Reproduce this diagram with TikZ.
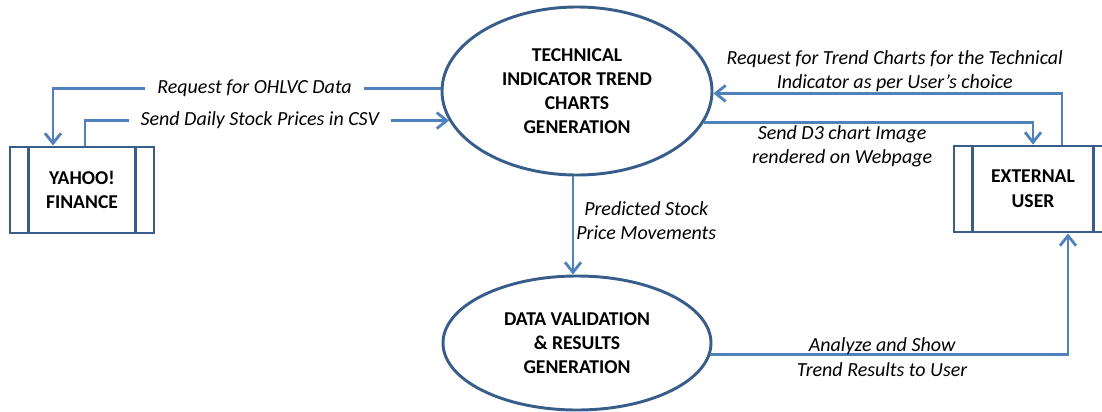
\documentclass[tikz,border=0pt]{standalone}
\usepackage{fontspec}
\setmainfont{Carlito}
\usetikzlibrary{arrows.meta,shapes.geometric}
\definecolor{flowblue}{RGB}{79,129,189}
\definecolor{edgeblue}{RGB}{56,93,138}

\begin{document}
\begin{tikzpicture}[x=0.75pt,y=-0.75pt,
        process/.style={ellipse,draw=edgeblue,line width=2.2pt,inner sep=0pt,align=center,
            font=\fontsize{14.7}{18}\selectfont\bfseries},
        entity/.style={draw=edgeblue,line width=2.2pt,minimum height=64.5pt,align=center,
            font=\fontsize{14.7}{18.5}\selectfont\bfseries,
            path picture={
                \draw[edgeblue,line width=2.2pt]
                    ([xshift=14pt]path picture bounding box.north west) -- ([xshift=14pt]path picture bounding box.south west)
                    ([xshift=-14pt]path picture bounding box.north east) -- ([xshift=-14pt]path picture bounding box.south east);}},
        flow/.style={draw=flowblue,line width=2.1pt,-{Straight Barb[length=7.5pt,width=12pt]}},
        flowtext/.style={align=center,font=\fontsize{15}{18.5}\selectfont\itshape,text=black}]
    \useasboundingbox (0,0) rectangle (1102,411);
    % processes
    \node[process,minimum width=202.5pt,minimum height=126pt] (trend) at (577,91)
        {TECHNICAL\\INDICATOR TREND\\CHARTS\\GENERATION};
    \node[process,minimum width=201pt,minimum height=100.5pt] (valid) at (577,343)
        {DATA VALIDATION\\\& RESULTS\\GENERATION};
    % external entities
    \node[entity,minimum width=108pt] (yahoo) at (82,190) {YAHOO!\\FINANCE};
    \node[entity,minimum width=118.5pt] (user) at (1033,189) {EXTERNAL\\USER};
    % data flows
    \draw[flow] (trend.179) -| node[flowtext,fill=white,inner xsep=9pt,pos=0.24]{Request for OHLVC Data}
        ([xshift=-21.75pt]yahoo.north);
    \draw[flow] ([xshift=2.25pt]yahoo.north) |- node[flowtext,fill=white,inner xsep=9pt,pos=0.74]{Send Daily Stock Prices in CSV}
        (trend.193);
    \draw[flow] ([xshift=21.75pt]user.north) |- node[flowtext,above,pos=0.74,inner sep=0pt]
        {Request for Trend Charts for the Technical\\Indicator as per User's choice} (trend.-1);
    \draw[flow] (trend.-14) -| node[flowtext,below,pos=0.21,inner sep=1pt]
        {Send D3 chart Image\\rendered on Webpage} (user.north);
    \draw[flow] ([xshift=-3pt]trend.south) -- node[flowtext,right,pos=0.45,inner sep=1.5pt]{Predicted Stock\\Price Movements}
        ([xshift=-3pt]valid.north);
    \draw[flow] (valid.-5) -| node[flowtext,pos=0.24,yshift=-2pt]{Analyze and Show\\Trend Results to User}
        ([xshift=26.25pt]user.south);
\end{tikzpicture}
\end{document}
